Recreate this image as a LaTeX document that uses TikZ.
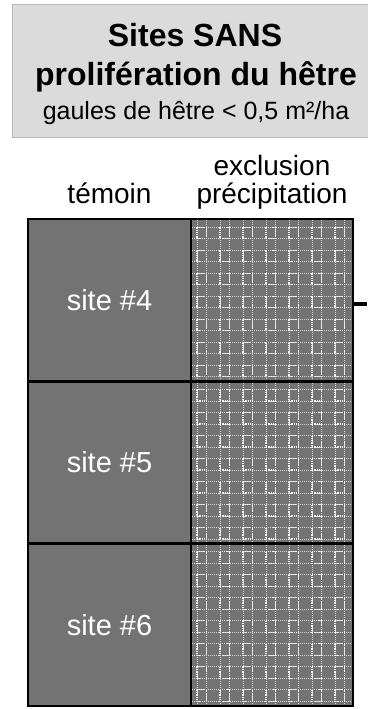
\documentclass[tikz,border=0pt]{standalone}
\usepackage{fontspec}
\setmainfont{Liberation Sans}
\usetikzlibrary{positioning}

\definecolor{cellgray}{gray}{0.45}
\definecolor{titlegray}{gray}{0.86}

\begin{document}
\begin{tikzpicture}[
    x=1pt, y=1pt,
    titlebox/.style={rectangle, draw=gray!55, line width=1pt, fill=titlegray, minimum width=366pt, minimum height=132pt, inner sep=0pt},
    titletext/.style={font=\fontsize{32}{36}\selectfont\bfseries, anchor=base},
    subtext/.style={font=\fontsize{25}{28}\selectfont, anchor=base},
    header/.style={font=\fontsize{28}{32}\selectfont},
    cell/.style={rectangle, draw=black, line width=2.5pt, fill=cellgray, minimum width=163pt, minimum height=162.3pt, inner sep=0pt, outer sep=0pt, font=\fontsize{29}{32}\selectfont, text=white},
    gridline/.style={white!70!cellgray, densely dotted, line width=1pt},
    boxline/.style={white!92!cellgray, densely dotted, line width=1.3pt},
    % pattern drawn from the node centre: top left corner is (-81,81)
    hatchcell/.style={cell, minimum width=162pt, path picture={
        \foreach \k in {0,...,6} {
          \draw[gridline] (\k*23-75,90) -- (\k*23-75,-90);
          \draw[gridline] (\k*23-65.5,90) -- (\k*23-65.5,-90);
          \draw[gridline] (-90,-\k*23+73) -- (90,-\k*23+73);
          \draw[gridline] (-90,-\k*23+61.5) -- (90,-\k*23+61.5);
          \foreach \m in {0,...,6}
            \draw[boxline] (\k*23-75,-\m*23+73) rectangle ++(9.5,-11.5);
        }}},
    stub/.style={line width=3.5pt}
]
\useasboundingbox (0,0) rectangle (367,-709);

% ==== Title ====
\node[titlebox] (title) at (195,-71) {};
\node[titletext] (t1) at (195,-47) {Sites SANS};
\node[titletext] (t2) at (196,-85) {prolifération du hêtre};
\node[subtext] (t3) at (196,-119) {gaules de hêtre < 0,5 m²/ha};

% ==== Sites ====
\node[cell] (c4) at (109.5,-300.2) {site \#4};
\node[hatchcell, right=0pt of c4] (x4) {};
\node[cell, below=0pt of c4] (c5) {site \#5};
\node[hatchcell, right=0pt of c5] (x5) {};
\node[cell, below=0pt of c5] (c6) {site \#6};
\node[hatchcell, right=0pt of c6] (x6) {};

% ==== Column headers ====
\node[header, above=16pt of c4.north, anchor=base] (temoin) {témoin};
\node[header, above=16pt of x4.north, anchor=base] (precip) {précipitation};
\node[header, above=44pt of x4.north, anchor=base] (excl) {exclusion};

% ==== Outgoing stub ====
\coordinate[right=14pt of x4.east] (out4);
\draw[stub] ([yshift=-4pt]x4.east) -- ([yshift=-4pt]out4);

\end{tikzpicture}
\end{document}
